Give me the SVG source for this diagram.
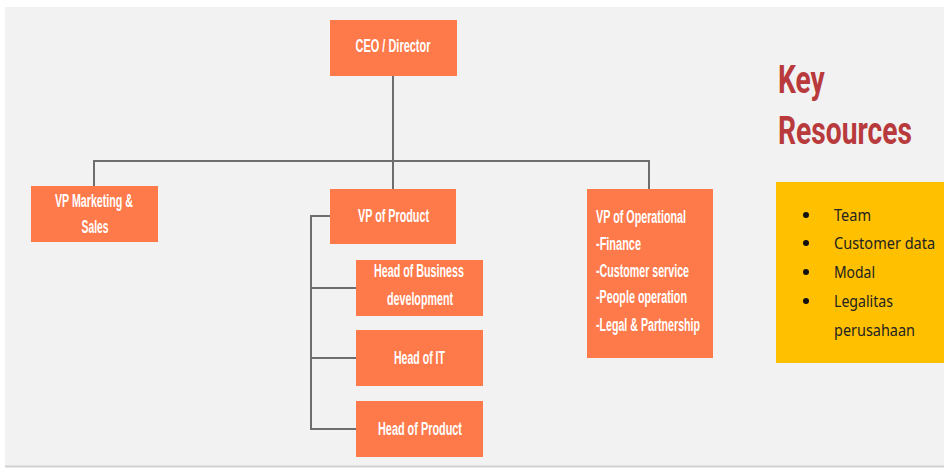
<svg xmlns="http://www.w3.org/2000/svg" width="944" height="468" viewBox="0 0 944 468">
<style>
.box{fill:#ff7a4b;}
.t{font-family:"Liberation Sans",Arial,sans-serif;font-weight:bold;fill:#ffffff;font-size:18px;}
.c{text-anchor:middle;}
.ln{stroke:#6e6e6e;stroke-width:2;fill:none;}
.kr{font-family:Roboto,"Liberation Sans",sans-serif;font-weight:bold;fill:#b83a3c;font-size:38px;}
.li{font-family:"Noto Sans","Open Sans",sans-serif;fill:#222222;font-size:17px;}
</style>
<rect x="0" y="0" width="944" height="468" fill="#ffffff"/>
<rect x="5" y="7" width="939" height="459" fill="#f2f2f2"/>
<line x1="5" y1="466.5" x2="944" y2="466.5" stroke="#d2d2d2" stroke-width="2"/>
<g id="connectors">
<path class="ln" d="M393 76 V189"/>
<path class="ln" d="M94 186 V161 H649 V189"/>
<path class="ln" d="M330 216 H311 V429 H356"/>
<path class="ln" d="M311 288 H356"/>
<path class="ln" d="M311 358 H356"/>
</g>
<g id="ceo">
<rect class="box" x="330" y="20" width="127" height="56"/>
<text class="t c" x="393" y="52" font-size="16" textLength="75" lengthAdjust="spacingAndGlyphs">CEO / Director</text>
</g>
<g id="vp-marketing">
<rect class="box" x="31" y="186" width="127" height="56"/>
<text class="t c" x="94" y="207" textLength="78" lengthAdjust="spacingAndGlyphs">VP Marketing &amp;</text>
<text class="t c" x="95" y="233" textLength="27" lengthAdjust="spacingAndGlyphs">Sales</text>
</g>
<g id="vp-product">
<rect class="box" x="330" y="189" width="126" height="55"/>
<text class="t c" x="393.5" y="222" font-size="20" textLength="71" lengthAdjust="spacingAndGlyphs">VP of Product</text>
</g>
<g id="head-business">
<rect class="box" x="356" y="260" width="127" height="56"/>
<text class="t c" x="419" y="277" textLength="90" lengthAdjust="spacingAndGlyphs">Head of Business</text>
<text class="t c" x="420" y="305" textLength="66" lengthAdjust="spacingAndGlyphs">development</text>
</g>
<g id="head-it">
<rect class="box" x="356" y="330" width="127" height="56"/>
<text class="t c" x="419.5" y="364" textLength="51" lengthAdjust="spacingAndGlyphs">Head of IT</text>
</g>
<g id="head-product">
<rect class="box" x="356" y="401" width="127" height="56"/>
<text class="t c" x="420" y="435" textLength="84" lengthAdjust="spacingAndGlyphs">Head of Product</text>
</g>
<g id="vp-operational">
<rect class="box" x="587" y="189" width="126" height="169"/>
<text class="t" x="596" y="223" textLength="90" lengthAdjust="spacingAndGlyphs">VP of Operational</text>
<text class="t" x="596" y="250" textLength="45" lengthAdjust="spacingAndGlyphs">-Finance</text>
<text class="t" x="596" y="277" textLength="93" lengthAdjust="spacingAndGlyphs">-Customer service</text>
<text class="t" x="596" y="303" textLength="91" lengthAdjust="spacingAndGlyphs">-People operation</text>
<text class="t" x="596" y="331" textLength="104" lengthAdjust="spacingAndGlyphs">-Legal &amp; Partnership</text>
</g>
<g id="key-resources-title">
<text class="kr" transform="translate(778,93) scale(0.72,1)" x="0" y="0" textLength="65" lengthAdjust="spacingAndGlyphs">Key</text>
<text class="kr" transform="translate(778,144) scale(0.72,1)" x="0" y="0" textLength="186" lengthAdjust="spacingAndGlyphs">Resources</text>
</g>
<g id="key-resources-list">
<rect x="776" y="182" width="168" height="181" fill="#ffc000"/>
<circle cx="806" cy="215" r="3" fill="#111111"/>
<circle cx="806" cy="243" r="3" fill="#111111"/>
<circle cx="806" cy="272" r="3" fill="#111111"/>
<circle cx="806" cy="301" r="3" fill="#111111"/>
<text class="li" x="834" y="221" textLength="37" lengthAdjust="spacingAndGlyphs">Team</text>
<text class="li" transform="translate(834,249) scale(0.85,1)" x="0" y="0" textLength="119" lengthAdjust="spacingAndGlyphs">Customer data</text>
<text class="li" x="834" y="278" textLength="41" lengthAdjust="spacingAndGlyphs">Modal</text>
<text class="li" x="834" y="307" textLength="59" lengthAdjust="spacingAndGlyphs">Legalitas</text>
<text class="li" x="834" y="336" textLength="81" lengthAdjust="spacingAndGlyphs">perusahaan</text>
</g>
</svg>
